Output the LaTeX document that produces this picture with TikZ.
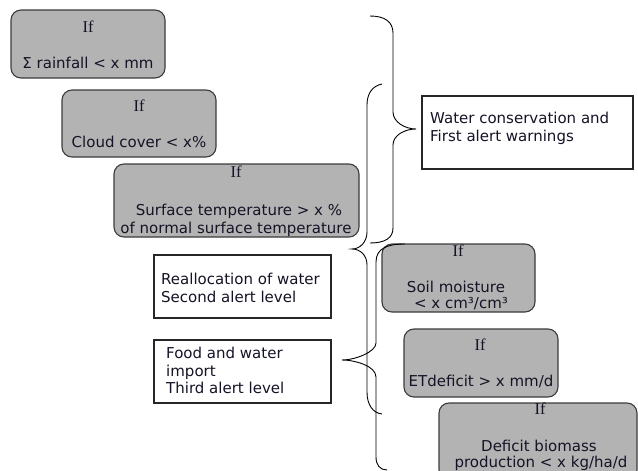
\documentclass[tikz,border=0pt]{standalone}
\usepackage{fontspec}
\setmainfont{DejaVu Sans}
\newfontfamily\iffont{Liberation Serif}
\definecolor{txtc}{RGB}{20,20,38}
\definecolor{boxfill}{RGB}{179,179,179}
\definecolor{boxline}{RGB}{60,60,60}
\tikzset{
  cond/.style={draw=boxline, fill=boxfill, line width=1.1pt, rounded corners=10pt, inner sep=0pt},
  plain/.style={draw=black!85, fill=white, line width=1.1pt, inner sep=0pt},
  txt/.style={font=\fontsize{15}{18}\selectfont, text=txtc, anchor=base, inner sep=0pt},
  iftxt/.style={font=\iffont\fontsize{16.5}{18}\selectfont, text=txtc, anchor=base, inner sep=0pt},
  brace/.style={draw=black, line width=0.9pt}
}
\begin{document}
\begin{tikzpicture}[x=1pt,y=-1pt]
\useasboundingbox (0,0) rectangle (638,471);
\clip (0,0) rectangle (638,471);
\fill[white] (0,0) rectangle (638,471);
% condition boxes
\node[cond, minimum width=154pt, minimum height=68pt] (c1) at (88,44) {};
\node[iftxt] (c1if) at (88,32) {If};
\node[txt] (c1t) at (88,68) {Σ rainfall < x mm};

\node[cond, minimum width=154pt, minimum height=67pt] (c2) at (139,123.5) {};
\node[iftxt] (c2if) at (139,111) {If};
\node[txt] (c2t) at (139,147) {Cloud cover < x\%};

\node[cond, minimum width=245pt, minimum height=73pt] (c3) at (236.5,200.5) {};
\node[iftxt] (c3if) at (236,177) {If};
\node[txt] (c3t) at (239,215) {Surface temperature > x \%};
\node[txt] (c3u) at (236,233) {of normal surface temperature};

\node[cond, minimum width=153pt, minimum height=68pt] (c4) at (458.5,278) {};
\node[iftxt] (c4if) at (458,256) {If};
\node[txt] (c4t) at (456,292) {Soil moisture};
\node[txt] (c4u) at (461,308) {< x cm³/cm³};

\node[cond, minimum width=154pt, minimum height=68pt] (c5) at (481,363) {};
\node[iftxt] (c5if) at (480,350) {If};
\node[txt] (c5t) at (481,386) {ETdeficit > x mm/d};

\node[cond, minimum width=198pt, minimum height=77pt] (c6) at (538,441.5) {};
\node[iftxt] (c6if) at (540,414) {If};
\node[txt] (c6t) at (539,451) {Deficit biomass};
\node[txt] (c6u) at (541,467) {production < x kg/ha/d};

% action boxes
\node[plain, minimum width=211pt, minimum height=73pt] (a1) at (527.5,132.5) {};
\node[txt, anchor=base west] (a1t) at (430,123) {Water conservation and};
\node[txt, anchor=base west] (a1u) at (430,141) {First alert warnings};

\node[plain, minimum width=177pt, minimum height=63pt] (a2) at (242.5,286.5) {};
\node[txt, anchor=base west] (a2t) at (161,284) {Reallocation of water};
\node[txt, anchor=base west] (a2u) at (161,302) {Second alert level};

\node[plain, minimum width=177pt, minimum height=63pt] (a3) at (242.5,371.5) {};
\node[txt, anchor=base west] (a3t) at (166,358) {Food and water};
\node[txt, anchor=base west] (a3u) at (166,376) {import};
\node[txt, anchor=base west] (a3v) at (166,393) {Third alert level};

% braces
\draw[brace] (370,16) .. controls (385,16) and (393,22) .. (393,33) -- (393,112)
  .. controls (393,122) and (405,129) .. (416,129)
  .. controls (405,129) and (393,135) .. (393,145) -- (393,228)
  .. controls (393,238) and (385,243) .. (370,243);
\draw[brace] (382,84) .. controls (372,86) and (367,94) .. (367,105) -- (367,232)
  .. controls (367,242) and (360,249) .. (352,249)
  .. controls (360,249) and (367,255) .. (367,265) -- (367,392)
  .. controls (367,405) and (373,413) .. (382,414);
\draw[brace] (405,244) .. controls (388,244) and (376,248) .. (376,262) -- (376,343)
  .. controls (376,352) and (355,360) .. (342,360)
  .. controls (355,360) and (376,366) .. (376,377) -- (376,457)
  .. controls (376,465) and (380,470) .. (387,470);
\end{tikzpicture}
\end{document}
